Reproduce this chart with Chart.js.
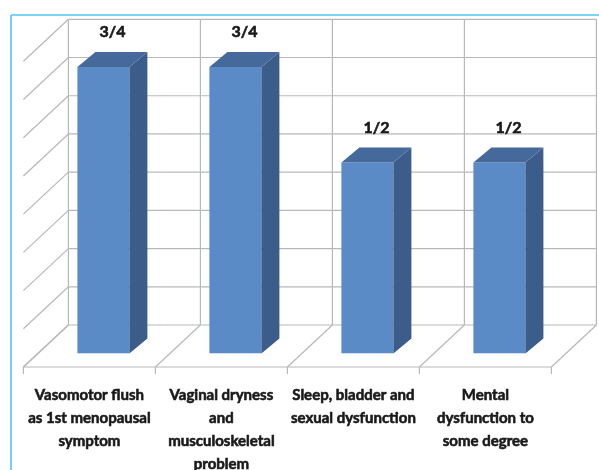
<!DOCTYPE html>
<html>
<head>
<meta charset="utf-8">
<script src="https://cdn.jsdelivr.net/npm/chart.js@4/dist/chart.umd.min.js"></script>
<style>
  html, body { margin: 0; padding: 0; background: #ffffff; }
  #wrap { position: relative; width: 599px; height: 470px; }
</style>
</head>
<body>
<div id="wrap"><canvas id="c"></canvas></div>
<script>
// Categories (multi-line labels) and values
const categories = [
  ['Vasomotor flush', 'as 1st menopausal', 'symptom'],
  ['Vaginal dryness', 'and', 'musculoskeletal', 'problem'],
  ['Sleep, bladder and', 'sexual dysfunction'],
  ['Mental', 'dysfunction to', 'some degree']
];
const values = [0.75, 0.75, 0.5, 0.5];
const valueLabels = ['3/4', '3/4', '1/2', '1/2'];
const yTicks = [0, 0.1, 0.2, 0.3, 0.4, 0.5, 0.6, 0.7, 0.8];

// Oblique 3D geometry: offsets from the bars' front plane
const BACK = { dx: 31, dy: -28.6 };   // back wall plane
const FRONT = { dx: -14, dy: 13.4 };  // front edge of the floor
const BAR_DEPTH = { dx: 18, dy: -15 };

const COLORS = {
  front: '#5a8bc6',
  top: '#46699c',
  side: '#3c5d8a',
  grid: '#b8b8b8',
  frame: '#4fc4f2',
  text: '#1a1a1a'
};

function line(ctx, x1, y1, x2, y2) {
  ctx.beginPath();
  ctx.moveTo(x1, y1);
  ctx.lineTo(x2, y2);
  ctx.stroke();
}

// bold text with a thin outline to give it a heavier stroke
function heavyText(ctx, txt, x, y) {
  ctx.fillText(txt, x, y);
  ctx.strokeText(txt, x, y);
}

const walls3d = {
  id: 'walls3d',
  beforeDatasetsDraw(chart) {
    const { ctx, scales: { x, y } } = chart;
    const n = chart.data.labels.length;
    const step = (x.right - x.left) / n;
    const bounds = [];
    for (let i = 0; i <= n; i++) bounds.push(x.left + i * step);
    const y0 = y.getPixelForValue(0);
    const yTop = y.getPixelForValue(yTicks[yTicks.length - 1]);

    ctx.save();
    // outer frame
    ctx.strokeStyle = COLORS.frame;
    ctx.lineWidth = 1.6;
    line(ctx, 11, 15, 599, 15);
    line(ctx, 11, 15, 11, 470);

    ctx.strokeStyle = COLORS.grid;
    ctx.lineWidth = 1.2;
    // back wall horizontals + left wall diagonals
    yTicks.forEach(v => {
      const py = y.getPixelForValue(v);
      line(ctx, bounds[0] + BACK.dx, py + BACK.dy, bounds[n] + BACK.dx, py + BACK.dy);
      line(ctx, bounds[0] + BACK.dx, py + BACK.dy, bounds[0] + FRONT.dx, py + FRONT.dy);
    });
    // back wall verticals + floor diagonals + ticks
    bounds.forEach(bx => {
      line(ctx, bx + BACK.dx, yTop + BACK.dy, bx + BACK.dx, y0 + BACK.dy);
      line(ctx, bx + BACK.dx, y0 + BACK.dy, bx + FRONT.dx, y0 + FRONT.dy);
      line(ctx, bx + FRONT.dx, y0 + FRONT.dy, bx + FRONT.dx, y0 + FRONT.dy + 7);
    });
    // floor front edge
    line(ctx, bounds[0] + FRONT.dx, y0 + FRONT.dy, bounds[n] + FRONT.dx, y0 + FRONT.dy);

    // category labels under the floor
    ctx.fillStyle = COLORS.text;
    ctx.strokeStyle = COLORS.text;
    ctx.lineWidth = 0.6;
    ctx.font = 'bold 15px Lato';
    ctx.textAlign = 'center';
    ctx.textBaseline = 'middle';
    chart.data.labels.forEach((lab, i) => {
      const cx = x.getPixelForValue(i) + FRONT.dx;
      lab.forEach((ln, k) => heavyText(ctx, ln, cx, y0 + FRONT.dy + 28 + k * 23));
    });
    ctx.restore();
  },
  afterDatasetsDraw(chart) {
    const { ctx } = chart;
    const meta = chart.getDatasetMeta(0);
    ctx.save();
    meta.data.forEach((bar, i) => {
      const { x: cx, y: top, base, width } = bar.getProps(['x', 'y', 'base', 'width'], true);
      const l = cx - width / 2, r = cx + width / 2;
      const { dx, dy } = BAR_DEPTH;
      // side face
      ctx.fillStyle = COLORS.side;
      ctx.beginPath();
      ctx.moveTo(r, top);
      ctx.lineTo(r + dx, top + dy);
      ctx.lineTo(r + dx, base + dy);
      ctx.lineTo(r, base);
      ctx.closePath();
      ctx.fill();
      // top face
      ctx.fillStyle = COLORS.top;
      ctx.beginPath();
      ctx.moveTo(l, top);
      ctx.lineTo(l + dx, top + dy);
      ctx.lineTo(r + dx, top + dy);
      ctx.lineTo(r, top);
      ctx.closePath();
      ctx.fill();
      // value label
      ctx.fillStyle = COLORS.text;
      ctx.strokeStyle = COLORS.text;
      ctx.lineWidth = 0.6;
      ctx.font = 'bold 16px Lato';
      ctx.textAlign = 'center';
      ctx.textBaseline = 'middle';
      heavyText(ctx, valueLabels[i], cx + dx / 2, top - 35);
    });
    ctx.restore();
  }
};

new Chart(document.getElementById('c'), {
  type: 'bar',
  data: {
    labels: categories,
    datasets: [{
      data: values,
      backgroundColor: COLORS.front,
      borderWidth: 0,
      categoryPercentage: 1,
      barPercentage: 0.394
    }]
  },
  options: {
    responsive: true,
    maintainAspectRatio: false,
    animation: false,
    layout: { padding: { left: 37.4, right: 33.6, top: 47.9, bottom: 116.4 } },
    plugins: { legend: { display: false }, tooltip: { enabled: false } },
    scales: {
      x: { display: false },
      y: { display: false, min: 0, max: 0.8 }
    }
  },
  plugins: [walls3d]
});
</script>
</body>
</html>
